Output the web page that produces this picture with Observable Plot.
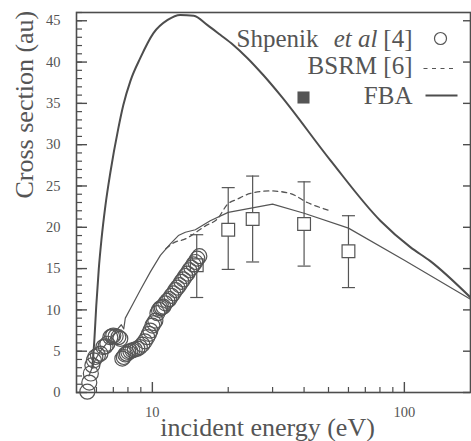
<!DOCTYPE html>
<html><head><meta charset="utf-8">
<script src="https://cdn.jsdelivr.net/npm/d3@7"></script>
<script src="https://cdn.jsdelivr.net/npm/@observablehq/plot@0.6"></script>
<style>body{margin:0;background:#fff} svg text{font-family:"Liberation Serif", serif !important;}</style>
</head><body><div id="chart"></div>
<script>
// FBA (thick solid)
const fbaE = [5.78, 5.89, 5.99, 6.13, 6.28, 6.51, 6.81, 7.33, 7.67, 8.18, 8.96, 10.1, 11.5, 12.9, 14.6, 16.5, 18.6, 20.9, 23.8, 27.6, 32.2, 50.9, 80.3, 105.6, 126.8, 183];
const fbaS = [3.0, 6.5, 10.5, 15.0, 18.5, 22.6, 26.6, 32.0, 34.8, 37.7, 40.5, 43.5, 45.1, 45.7, 45.6, 44.5, 43.3, 42.1, 40.5, 38.4, 36.0, 28.1, 20.8, 17.6, 15.9, 11.5];
// thin solid curve
const thinE = [5.6, 5.94, 6.22, 6.81, 7.33, 7.53, 7.7, 7.81, 8.40, 8.96, 9.82, 10.76, 11.79, 12.68, 13.52, 14.81, 16.97, 20, 30, 40, 60, 100, 183];
const thinS = [2.0, 4.0, 5.0, 6.5, 7.8, 8.2, 7.7, 9.0, 10.8, 12.4, 14.6, 16.6, 18.0, 19.0, 19.4, 19.7, 20.8, 21.8, 22.8, 21.7, 19.9, 16.0, 11.3];
// BSRM [6] (dashed)
const bsrmE = [11.3, 12.3, 13.3, 16.3, 18.1, 19.9, 21.7, 24.5, 29.4, 35.2, 41.2, 50.9];
const bsrmS = [17.4, 18.2, 18.5, 20.2, 21.0, 22.8, 23.4, 24.1, 24.4, 24.1, 23.0, 22.0];
// Shpenik et al [4] (circles)
const shpE = [5.52, 5.62, 5.70, 5.78, 5.86, 5.94, 6.08, 6.22, 6.39, 6.52, 6.63, 6.81, 6.92, 7.00, 7.15, 7.33, 7.46, 7.60, 7.70, 7.81, 7.92, 8.03, 8.18, 8.33, 8.52, 8.72, 8.92, 9.13, 9.34, 9.55, 9.70, 9.82, 10.0, 10.15, 10.28, 10.47, 10.62, 10.76, 10.9, 11.06, 11.26, 11.47, 11.68, 11.9, 12.12, 12.35, 12.57, 12.8, 13.04, 13.27, 13.52, 13.77, 14.02, 14.28, 14.55, 14.81, 15.08, 15.36];
const shpS = [0.1, 1.2, 2.3, 3.3, 3.9, 4.3, 4.5, 4.7, 5.5, 5.6, 5.9, 6.7, 6.8, 6.9, 6.8, 6.7, 6.5, 4.1, 4.3, 4.6, 4.7, 4.9, 5.0, 5.1, 5.2, 5.3, 5.5, 5.8, 6.2, 6.7, 7.1, 7.5, 8.1, 8.4, 8.7, 9.6, 10.0, 10.2, 10.3, 10.4, 10.8, 11.1, 11.3, 11.7, 12.0, 12.4, 12.7, 13.0, 13.4, 13.7, 14.1, 14.4, 14.8, 15.1, 15.5, 15.8, 16.2, 16.5];
// squares with error bars
const sqE = [15, 20, 25, 40, 60];
const sqS = [15.4, 19.7, 21.0, 20.4, 17.1];
const sqLo = [11.5, 14.9, 15.8, 15.3, 12.7];
const sqHi = [19.1, 24.8, 26.2, 25.5, 21.4];
// ticks
const yTicks = [0, 5, 10, 15, 20, 25, 30, 35, 40, 45];
const yMinor = d3.range(0, 47, 1);
const xTicks = [10, 100];
const xMinor = [6, 7, 8, 9, 20, 30, 40, 50, 60, 70, 80, 90];
const xLabel = "incident energy (eV)";
const yLabel = "Cross section (au)";
const legendLabels = ["Shpenik", "et al", "[4]", "BSRM [6]", "FBA"];

const zip = (E, S) => E.map((e, i) => ({E: e, s: S[i]}));
const fba = zip(fbaE, fbaS), thin = zip(thinE, thinS), bsrm = zip(bsrmE, bsrmS), shp = zip(shpE, shpS);
const sq = sqE.map((e, i) => ({E: e, s: sqS[i], lo: sqLo[i], hi: sqHi[i]}));

const hline = {draw(ctx, size) { const w = Math.sqrt(size / Math.PI); ctx.moveTo(-w, 0); ctx.lineTo(w, 0); }};
const FONT = "Liberation Serif";
const C = "#4d4d4d";
const TXT = "#555";
const LF = 25;
const W = 471, H = 441, ML = 76, MR = 1, MT = 12, MB = 49;
const IW = W - ML - MR, IH = H - MT - MB;
const T = (label, o) => Plot.text([label], {frameAnchor: "top-left", textAnchor: "end", lineAnchor: "middle", fontSize: LF, fill: TXT, fontFamily: FONT, ...o});

const chart = Plot.plot({
  width: W, height: H,
  marginLeft: ML, marginRight: MR, marginTop: MT, marginBottom: MB,
  style: {background: "#fff", fontFamily: FONT},
  x: {type: "log", domain: [5, 183]},
  y: {domain: [0, 46]},
  marks: [
    Plot.axisY(yTicks, {tickSize: 0, tickPadding: 16, fontSize: 14.5, fill: TXT, label: null, fontFamily: FONT}),
    Plot.axisX(xTicks, {tickSize: 0, tickPadding: 14, fontSize: 14.5, fill: TXT, label: null, fontFamily: FONT, tickFormat: d => String(d)}),
    // minor/major ticks inward
    Plot.tickY(yMinor, {y: d => d, insetRight: IW - 6, stroke: C, strokeWidth: 1.2}),
    Plot.tickY(yTicks, {y: d => d, insetRight: IW - 11, stroke: C, strokeWidth: 1.4}),
    Plot.tickY(yTicks, {y: d => d, insetLeft: IW - 7, stroke: C, strokeWidth: 1.4}),
    Plot.tickX(xMinor, {x: d => d, insetTop: IH - 5, stroke: C, strokeWidth: 1.2}),
    Plot.tickX(xTicks, {x: d => d, insetTop: IH - 10, stroke: C, strokeWidth: 1.4}),
    // curves
    Plot.line(fba, {x: "E", y: "s", stroke: C, strokeWidth: 2, curve: "monotone-x"}),
    Plot.line(thin, {x: "E", y: "s", stroke: "#555", strokeWidth: 1.2}),
    Plot.line(bsrm, {x: "E", y: "s", stroke: "#555", strokeWidth: 1.3, strokeDasharray: "5,4", curve: "monotone-x"}),
    // error bars and squares
    Plot.ruleX(sq, {x: "E", y1: "lo", y2: "hi", stroke: "#555", strokeWidth: 1.2}),
    Plot.dot(sq, {x: "E", y: "lo", symbol: hline, r: 6.5, stroke: "#555", strokeWidth: 1.2}),
    Plot.dot(sq, {x: "E", y: "hi", symbol: hline, r: 6.5, stroke: "#555", strokeWidth: 1.2}),
    Plot.dot(sq, {x: "E", y: "s", symbol: "square", r: 7.2, fill: "#fff", stroke: "#555", strokeWidth: 1.2}),
    // circles
    Plot.dot(shp, {x: "E", y: "s", r: 7.5, stroke: "#555", strokeWidth: 1.2, fill: "none"}),
    // frame
    Plot.frame({stroke: C, strokeWidth: 1.6}),
    // legend
    T(legendLabels[0], {dx: 242, dy: 26}),
    T(legendLabels[1], {dx: 301, dy: 26, fontStyle: "italic"}),
    T(legendLabels[2], {dx: 336, dy: 26}),
    Plot.dot([0], {frameAnchor: "top-left", dx: 364, dy: 26, r: 6, stroke: "#555", strokeWidth: 1.2}),
    T(legendLabels[3], {dx: 336, dy: 53}),
    Plot.dot([0], {frameAnchor: "top-left", dx: 364, dy: 56, r: 17, symbol: hline, stroke: "#555", strokeWidth: 1.2, strokeDasharray: "4,4.5"}),
    T(legendLabels[4], {dx: 336, dy: 83}),
    Plot.dot([0], {frameAnchor: "top-left", dx: 365, dy: 83, r: 16, symbol: hline, stroke: C, strokeWidth: 2}),
    Plot.dot([0], {frameAnchor: "top-left", dx: 227, dy: 85, r: 6.8, symbol: "square", fill: "#555", stroke: "none"}),
    // axis labels
    Plot.text([xLabel], {frameAnchor: "bottom", dx: -6, dy: 35.5, lineAnchor: "middle", fontSize: 26, fill: TXT, fontFamily: FONT}),
    Plot.text([yLabel], {frameAnchor: "left", dx: -52, dy: -4, rotate: -90, lineAnchor: "middle", fontSize: 26, fill: TXT, fontFamily: FONT})
  ]
});
document.getElementById("chart").appendChild(chart);
</script>
</body></html>
